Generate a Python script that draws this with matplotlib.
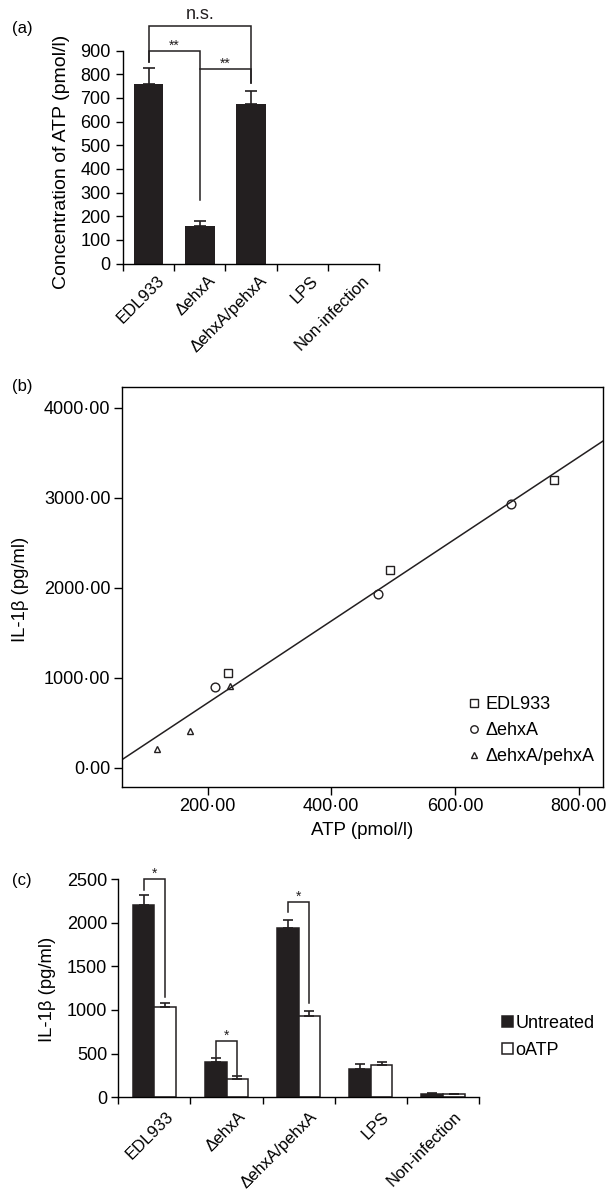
import numpy as np
import matplotlib
matplotlib.use("Agg")
from matplotlib import pyplot as plt
from matplotlib.ticker import FuncFormatter
from matplotlib.transforms import ScaledTranslation

plt.rcParams['font.family'] = ['Liberation Sans', 'DejaVu Sans']
plt.rcParams['axes.linewidth'] = 1.0

W, H = 606, 1190
INK = '#231f20'

strains = ['EDL933', 'ΔehxA', 'ΔehxA/pehxA', 'LPS', 'Non-infection']

# (a) ATP released
atp_mean = [760, 160, 673, 0, 0]
atp_err = [68, 18, 57, 0, 0]

# (b) IL-1b against ATP, per strain
edl_atp = [233, 495, 760]
edl_il = [1049, 2197, 3197]
dehx_atp = [212, 476, 691]
dehx_il = [900, 1933, 2930]
comp_atp = [119, 172, 236]
comp_il = [208, 408, 908]

# (c) IL-1b with / without oATP
il_untreated = [2203, 408, 1936, 328, 40]
il_untreated_err = [110, 40, 95, 57, 5]
il_oatp = [1031, 210, 935, 366, 35]
il_oatp_err = [52, 34, 57, 38, 5]

fig = plt.figure(figsize=(W / 100, H / 100), dpi=100)


def box(l, t, r, b):
    # axes from pixel edges of the reference
    return fig.add_axes([l / W, 1 - b / H, (r - l) / W, (b - t) / H])


def up_err(err):
    # one-sided error bars, nothing drawn for empty bars
    err = np.array(err, dtype=float)
    err[err == 0] = np.nan
    low = np.where(np.isnan(err), np.nan, 0.0)
    return [low, err]


def bracket(ax, x0, x1, top, y0, y1, text, size, offset=1):
    ax.plot([x0, x0, x1, x1], [y0, top, top, y1], color=INK, lw=1.1,
            clip_on=False, solid_joinstyle='miter')
    ax.annotate(text, ((x0 + x1) / 2, top), xytext=(0, offset),
                textcoords='offset points', ha='center', va='baseline',
                fontsize=size, color=INK, annotation_clip=False)


def category_axis(ax, n, dx, pad):
    ax.set_xlim(-0.5, n - 0.5)
    ax.set_xticks(np.arange(-0.5, n, 1))
    ax.set_xticklabels([])
    ax.set_xticks(np.arange(n), minor=True)
    ax.set_xticklabels(strains, minor=True, rotation=45, ha='right',
                       rotation_mode='anchor', fontsize=12)
    ax.tick_params(axis='x', which='major', direction='out', length=5, width=1.0)
    ax.tick_params(axis='x', which='minor', length=0, pad=pad)
    for lab in ax.get_xticklabels(minor=True):
        lab.set_transform(lab.get_transform() + ScaledTranslation(dx / 100, 0, fig.dpi_scale_trans))
    ax.spines['top'].set_visible(False)
    ax.spines['right'].set_visible(False)


# ---- (a)
ax_a = box(123, 50.7, 379, 263.5)
x = np.arange(len(strains))
ax_a.bar(x, atp_mean, 0.58, color=INK, lw=0,
         yerr=up_err(atp_err), capsize=4,
         error_kw=dict(ecolor=INK, elinewidth=1.2, capthick=1.2))
category_axis(ax_a, len(strains), 8, 7)
ax_a.set_ylim(0, 900)
ax_a.set_yticks(np.arange(0, 901, 100))
ax_a.tick_params(axis='y', direction='out', length=5, width=1.0, labelsize=13, pad=4)
bracket(ax_a, 0, 2, 1005, 853, 763, 'n.s.', 13, offset=5)
bracket(ax_a, 0, 1, 897, 854, 268, '**', 10)
bracket(ax_a, 1, 2, 822, 822, 763, '**', 10)
fig.text(61.5 / W, 1 - 162 / H, 'Concentration of ATP (pmol/l)', rotation=90,
         ha='center', va='center', fontsize=14)
fig.text(22 / W, 1 - 28 / H, '(a)', ha='center', va='center', fontsize=12)

# ---- (b)
ax_b = box(121.7, 387.3, 602.7, 786.7)
ax_b.plot(edl_atp, edl_il, 's', mfc='none', mec=INK, ms=6, mew=1.0, label='EDL933')
ax_b.plot(dehx_atp, dehx_il, 'o', mfc='none', mec=INK, ms=6.3, mew=1.0, label='ΔehxA')
ax_b.plot(comp_atp, comp_il, '^', mfc='none', mec=INK, ms=4.8, mew=1.0, label='ΔehxA/pehxA')
ax_b.set_xlim(61.3, 838.7)
ax_b.set_ylim(-211, 4227)
all_x = np.concatenate([edl_atp, dehx_atp, comp_atp])
all_y = np.concatenate([edl_il, dehx_il, comp_il])
coef = np.polyfit(all_x, all_y, 1)
xs = np.array(ax_b.get_xlim())
ax_b.plot(xs, np.polyval(coef, xs), color=INK, lw=1.1)
ax_b.set_xticks([200, 400, 600, 800])
ax_b.set_yticks([0, 1000, 2000, 3000, 4000])
dot_fmt = FuncFormatter(lambda v, p: f'{v:.2f}'.replace('.', '\u00b7'))
ax_b.xaxis.set_major_formatter(dot_fmt)
ax_b.yaxis.set_major_formatter(dot_fmt)
ax_b.tick_params(direction='out', length=6, width=1.0, labelsize=13, pad=2)
ax_b.set_xlabel('ATP (pmol/l)', fontsize=13.5, labelpad=5)
fig.text(20.5 / W, 1 - 589 / H, 'IL-1β (pg/ml)', rotation=90,
         ha='center', va='center', fontsize=13.3)
fig.text(22 / W, 1 - 386 / H, '(b)', ha='center', va='center', fontsize=12)
ax_b.legend(loc='upper left', bbox_to_anchor=(469.6 / W, 1 - 696 / H),
            bbox_transform=fig.transFigure, frameon=False, fontsize=13,
            handlelength=0.5, handletextpad=0.4, borderpad=0, borderaxespad=0,
            labelspacing=0.5, numpoints=1, markerscale=0.85)

# ---- (c)
ax_c = box(118.3, 879, 479, 1097.3)
ax_c.bar(x - 0.15, il_untreated, 0.3, color=INK, edgecolor=INK, lw=1.1,
         yerr=up_err(il_untreated_err), capsize=3.5,
         error_kw=dict(ecolor=INK, elinewidth=1.2, capthick=1.2), label='Untreated')
ax_c.bar(x + 0.15, il_oatp, 0.3, color='white', edgecolor=INK, lw=1.1,
         yerr=up_err(il_oatp_err), capsize=3.5,
         error_kw=dict(ecolor=INK, elinewidth=1.2, capthick=1.2), label='oATP')
category_axis(ax_c, len(strains), 11, 8.5)
ax_c.set_ylim(0, 2500)
ax_c.set_yticks(np.arange(0, 2501, 500))
ax_c.tick_params(axis='y', direction='out', length=5, width=1.0, labelsize=13, pad=3)
bracket(ax_c, -0.15, 0.15, 2500, 2374, 1152, '*', 10)
bracket(ax_c, 0.85, 1.15, 645, 458, 255, '*', 10)
bracket(ax_c, 1.85, 2.15, 2240, 2126, 1077, '*', 10)
fig.text(47 / W, 1 - 989 / H, 'IL-1β (pg/ml)', rotation=90,
         ha='center', va='center', fontsize=13.3)
fig.text(22 / W, 1 - 880 / H, '(c)', ha='center', va='center', fontsize=12)
fig.legend(*ax_c.get_legend_handles_labels(), loc='upper left',
           bbox_to_anchor=(501.5 / W, 1 - 1015 / H), frameon=False, fontsize=13,
           handlelength=0.62, handleheight=0.62, handletextpad=0.15,
           borderpad=0, borderaxespad=0, labelspacing=0.55)

fig.savefig('out.png', dpi=100)
